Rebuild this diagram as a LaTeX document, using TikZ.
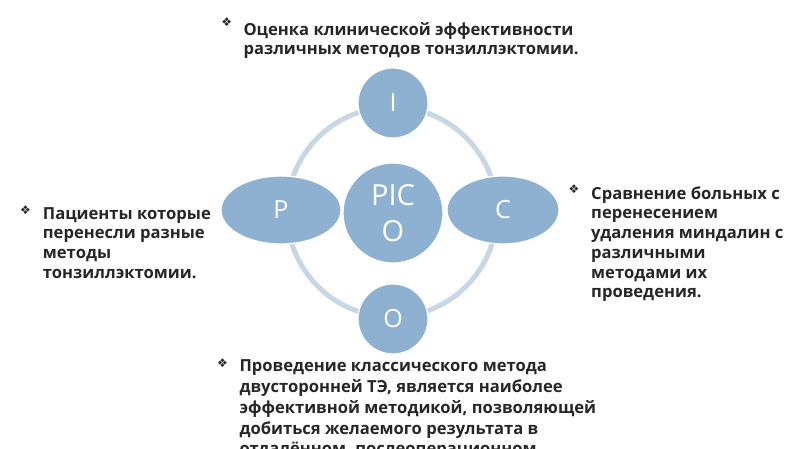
\documentclass[tikz,border=0pt]{standalone}
\usepackage{fontspec}
\usetikzlibrary{shapes.geometric}
\setmainfont{Open Sans}
\newfontfamily\bulletfont{DejaVu Sans}
\definecolor{bubble}{HTML}{8FB1D1}
\definecolor{ringc}{HTML}{C9D7E4}
\definecolor{txt}{HTML}{262626}
\newcommand{\lines}[1]{\begin{tabular}[t]{@{}l@{}}#1\end{tabular}}
\tikzset{
  bubble/.style={fill=bubble, draw=white, line width=1.2pt, text=white, font=\fontsize{25}{30}\selectfont, inner sep=0pt},
  desc/.style={anchor=base west, inner sep=0pt, text=txt, font=\bfseries\fontsize{16.6}{19.7}\selectfont},
  bul/.style={inner sep=0pt, text=txt, font=\bulletfont\fontsize{12}{12}\selectfont},
}
\begin{document}
\begin{tikzpicture}[x=1pt,y=-1pt]
\useasboundingbox (0,0) rectangle (800,449);
\clip (0,0) rectangle (800,449);
\node[circle, draw=ringc, line width=5pt, minimum size=210pt, inner sep=0pt] (ring) at (392,212) {};
\node[bubble, circle, minimum size=70pt] (I) at (393,103) {I};
\node[bubble, circle, minimum size=70pt] (O) at (393,319) {O};
\node[bubble, ellipse, minimum width=120pt, minimum height=68pt] (P) at (281,210) {P};
\node[bubble, ellipse, minimum width=112pt, minimum height=68pt] (C) at (503,210) {C};
\node[bubble, circle, minimum size=100pt, align=center, font=\fontsize{29}{36}\selectfont] (PICO) at (393,213) {PIC\\O};

\node[bul] (bt) at (226.7,21.7) {❖};
\node[desc, font=\bfseries\fontsize{16.6}{18.8}\selectfont] (tt) at (243.3,35.7) {\lines{Оценка клинической эффективности\\различных методов тонзиллэктомии.}};
\node[bul] (bl) at (25.5,210) {❖};
\node[desc] (tl) at (42.7,219.3) {\lines{Пациенты которые\\перенесли разные\\методы\\тонзиллэктомии.}};
\node[bul] (br) at (574,189.5) {❖};
\node[desc] (tr) at (591,199.3) {\lines{Сравнение больных с\\перенесением\\удаления миндалин с\\различными\\методами их\\проведения.}};
\node[bul] (bb) at (222.5,363.5) {❖};
\node[desc, font=\bfseries\fontsize{16.6}{20.8}\selectfont] (tb) at (239.3,371.7) {\lines{Проведение классического метода\\двусторонней ТЭ, является наиболее\\эффективной методикой, позволяющей\\добиться желаемого результата в\\отдалённом, послеоперационном}};
\end{tikzpicture}
\end{document}
